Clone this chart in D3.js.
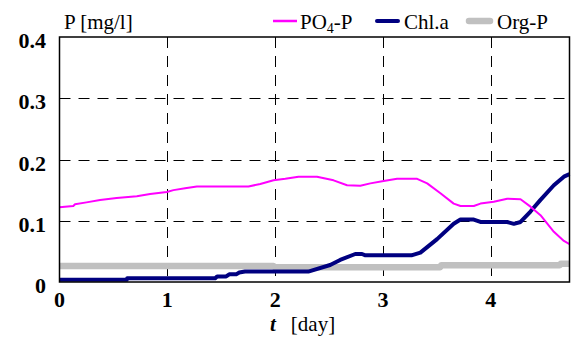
<!DOCTYPE html>
<html>
<head>
<meta charset="utf-8">
<script src="https://cdn.jsdelivr.net/npm/d3@7"></script>
<style>
body { margin: 0; background: #fff; }
svg { font-family: "Liberation Serif", "Times New Roman", serif; }
</style>
</head>
<body>
<div id="d3container"></div>
<script>
// time [day] and values [mg/l]
var po4T   = [0, 0.128, 0.144, 0.25, 0.376, 0.53, 0.717, 0.84, 0.995, 1.057, 1.165, 1.274, 1.753, 1.862, 1.985, 2.094, 2.217, 2.388, 2.542, 2.667, 2.79, 2.883, 3.006, 3.131, 3.317, 3.41, 3.533, 3.656, 3.719, 3.842, 3.904, 4.028, 4.152, 4.276, 4.368, 4.461, 4.585, 4.678, 4.73];
var po4V   = [0.122, 0.124, 0.127, 0.130, 0.134, 0.137, 0.140, 0.1435, 0.147, 0.150, 0.153, 0.156, 0.156, 0.160, 0.166, 0.1685, 0.172, 0.172, 0.166, 0.158, 0.157, 0.161, 0.165, 0.1685, 0.1685, 0.161, 0.145, 0.128, 0.124, 0.124, 0.128, 0.131, 0.136, 0.135, 0.123, 0.109, 0.082, 0.067, 0.062];

var chlT   = [0, 0.624, 0.627, 1.444, 1.462, 1.546, 1.574, 1.639, 1.667, 1.72, 2.307, 2.51, 2.603, 2.743, 2.806, 2.837, 3.264, 3.347, 3.502, 3.656, 3.719, 3.842, 3.904, 4.152, 4.214, 4.276, 4.368, 4.461, 4.585, 4.678, 4.73];
var chlV   = [0.0035, 0.0035, 0.006, 0.006, 0.009, 0.009, 0.0125, 0.0125, 0.0155, 0.017, 0.017, 0.0277, 0.036, 0.0457, 0.0457, 0.0435, 0.0435, 0.048, 0.07, 0.095, 0.102, 0.102, 0.098, 0.098, 0.095, 0.098, 0.115, 0.134, 0.158, 0.172, 0.176];

var orgT   = [0, 1.985, 2.0, 3.53, 3.54, 4.64, 4.65, 4.73];
var orgV   = [0.026, 0.026, 0.024, 0.024, 0.0275, 0.0275, 0.030, 0.030];

var xTicks = [0, 1, 2, 3, 4];
var yTicks = [0, 0.1, 0.2, 0.3, 0.4];
var yTickLabels = ['0', '0.1', '0.2', '0.3', '0.4'];

var width = 573, height = 341;
var margin = {left: 59.5, right: 3.5, top: 37, bottom: 59};

var svg = d3.select('#d3container')
    .append('svg')
    .attr('width', width)
    .attr('height', height);

var x = d3.scaleLinear()
    .domain([0, 4.73])
    .range([margin.left, width - margin.right]);
var y = d3.scaleLinear()
    .domain([0, 0.4])
    .range([height - margin.bottom, margin.top]);

// grid
svg.append('g').selectAll('line')
    .data(xTicks.slice(1))
    .enter().append('line')
    .attr('x1', function (d) { return Math.round(x(d)) + 0.5; })
    .attr('x2', function (d) { return Math.round(x(d)) + 0.5; })
    .attr('y1', y(0.4)).attr('y2', y(0))
    .attr('stroke', '#000').attr('stroke-width', 1)
    .attr('stroke-dasharray', '11,8');
svg.append('g').selectAll('line')
    .data(yTicks.slice(1, 4))
    .enter().append('line')
    .attr('y1', function (d) { return Math.round(y(d)) + 0.5; })
    .attr('y2', function (d) { return Math.round(y(d)) + 0.5; })
    .attr('x1', x(0)).attr('x2', x(4.73))
    .attr('stroke', '#000').attr('stroke-width', 1)
    .attr('stroke-dasharray', '11,8');

function draw(ts, vs, color, w) {
    var pts = ts.map(function (t, i) { return [t, vs[i]]; });
    var line = d3.line()
        .x(function (d) { return x(d[0]); })
        .y(function (d) { return y(d[1]); });
    svg.append('path')
        .attr('d', line(pts))
        .attr('fill', 'none')
        .attr('stroke', color)
        .attr('stroke-width', w)
        .attr('stroke-linejoin', 'round');
}
draw(orgT, orgV, '#c0c0c0', 6.5);
draw(chlT, chlV, '#000080', 4);
draw(po4T, po4V, '#ff00ff', 2);

// frame
svg.append('rect')
    .attr('x', x(0)).attr('y', y(0.4))
    .attr('width', x(4.73) - x(0)).attr('height', y(0) - y(0.4))
    .attr('fill', 'none').attr('stroke', '#000').attr('stroke-width', 1.5);

// tick labels
svg.append('g').selectAll('text')
    .data(yTicks)
    .enter().append('text')
    .attr('x', 46)
    .attr('y', function (d) { return y(d) + 11; })
    .attr('text-anchor', 'end')
    .attr('font-size', 22)
    .attr('font-weight', 'bold')
    .text(function (d, i) { return yTickLabels[i]; });
svg.append('g').selectAll('text')
    .data(xTicks)
    .enter().append('text')
    .attr('x', function (d) { return x(d); })
    .attr('y', 307)
    .attr('text-anchor', 'middle')
    .attr('font-size', 22)
    .attr('font-weight', 'bold')
    .text(function (d) { return d; });

// axis titles
svg.append('text')
    .attr('x', 64).attr('y', 29)
    .attr('font-size', 21)
    .text('P [mg/l]');
var xl = svg.append('text')
    .attr('x', 270).attr('y', 331)
    .attr('font-size', 21);
xl.append('tspan').attr('font-style', 'italic').attr('font-weight', 'bold').text('t');
xl.append('tspan').attr('dx', 15).text('[day]');

// legend
var leg = [
    {x1: 273, x2: 297, color: '#ff00ff', w: 2.5, tx: 300, cap: 'butt'},
    {x1: 377, x2: 398, color: '#000080', w: 4, tx: 404, cap: 'round'},
    {x1: 469, x2: 490, color: '#c0c0c0', w: 6.5, tx: 497, cap: 'round'}
];
leg.forEach(function (d) {
    svg.append('line')
        .attr('x1', d.x1).attr('x2', d.x2)
        .attr('y1', 21).attr('y2', 21)
        .attr('stroke', d.color).attr('stroke-width', d.w)
        .attr('stroke-linecap', d.cap);
});
var t1 = svg.append('text').attr('x', leg[0].tx).attr('y', 29).attr('font-size', 21);
t1.append('tspan').text('PO');
t1.append('tspan').attr('font-size', 14).attr('dy', 4).text('4');
t1.append('tspan').attr('dy', -4).text('-P');
svg.append('text').attr('x', leg[1].tx).attr('y', 29).attr('font-size', 21).text('Chl.a');
svg.append('text').attr('x', leg[2].tx).attr('y', 29).attr('font-size', 21).text('Org-P');
</script>
</body>
</html>
